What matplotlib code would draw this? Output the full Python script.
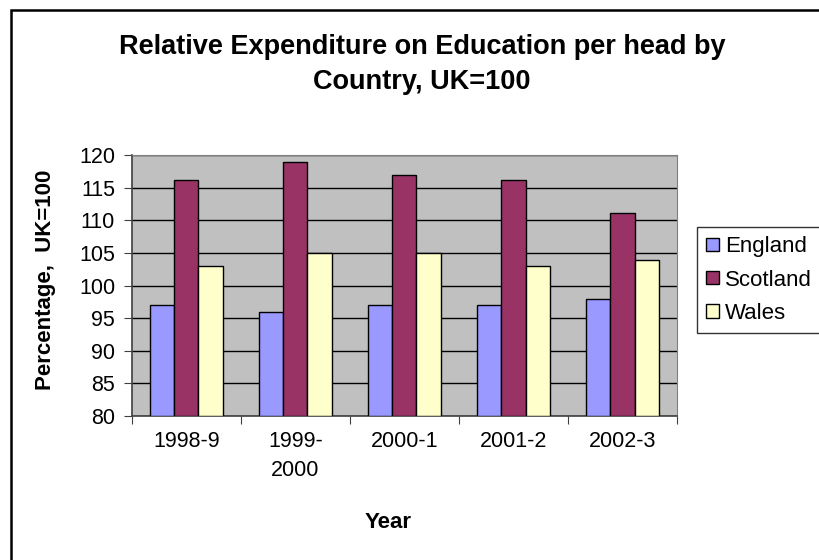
import matplotlib
matplotlib.use("Agg")
import matplotlib.pyplot as plt
import matplotlib.patches as mpatches
import numpy as np

plt.rcParams['font.family'] = ['Liberation Sans', 'DejaVu Sans']

years = ["1998-9", "1999-\n2000", "2000-1", "2001-2", "2002-3"]
england = [97, 96, 97, 97, 98]
scotland = [116.1, 118.9, 116.9, 116.1, 111.1]
wales = [103, 105, 105, 103, 103.9]
series_names = ["England", "Scotland", "Wales"]
colors = ["#9999FF", "#993366", "#FFFFCC"]

fig = plt.figure(figsize=(8.19, 5.6), dpi=100)
ax = fig.add_axes([131.7/819, 1-416/560, (677-131.7)/819, (416-155)/560])
ax.set_facecolor("#C0C0C0")

x = np.arange(len(years))
w = 0.222
for i, (vals, c, name) in enumerate(zip([england, scotland, wales], colors, series_names)):
    ax.bar(x + (i-1)*w, np.array(vals) - 80, width=w, bottom=80, color=c,
           edgecolor="black", linewidth=1, label=name, zorder=3)

ax.set_ylim(80, 120)
ax.set_xlim(-0.5, len(years)-0.5)
ax.set_yticks(range(80, 121, 5))
ax.yaxis.grid(True, color="black", linewidth=1, zorder=1)
ax.set_axisbelow(True)

ax.set_xticks(np.arange(-0.5, len(years)), minor=False)
ax.set_xticklabels([])
ax.set_xticks(x, minor=True)
ax.set_xticklabels(years, minor=True, fontsize=15.5, linespacing=1.5)
ax.tick_params(axis='x', which='minor', length=0, pad=11)
ax.tick_params(axis='x', which='major', length=6, direction='out', color='#404040')
ax.tick_params(axis='y', length=6, direction='out', labelsize=15.5, pad=6, color='#404040')
for lab in ax.get_xticklabels(minor=True):
    lab.set_verticalalignment('top')

for s in ['top', 'right']:
    ax.spines[s].set_color('#808080')
for s in ['left', 'bottom']:
    ax.spines[s].set_color('#404040')
    ax.spines[s].set_linewidth(1.2)

fig.text(422/819, 1-47/560, "Relative Expenditure on Education per head by",
         ha='center', va='center', fontsize=19.5, fontweight='bold')
fig.text(422/819, 1-82/560, "Country, UK=100",
         ha='center', va='center', fontsize=19.5, fontweight='bold')
fig.text(46/819, 1-280/560, "Percentage,  UK=100", rotation=90,
         ha='center', va='center', fontsize=16, fontweight='bold')
fig.text(388/819, 1-523/560, "Year", ha='center', va='center',
         fontsize=16, fontweight='bold')

handles = [mpatches.Patch(facecolor=c, edgecolor='black', linewidth=1) for c in colors]
leg = fig.legend(handles, series_names, loc='upper left',
                 bbox_to_anchor=(697/819, 1-227/560), fontsize=16,
                 frameon=True, fancybox=False, edgecolor='black',
                 handlelength=0.55, handleheight=0.55, handletextpad=0.3,
                 labelspacing=0.55, borderpad=0.42, borderaxespad=0)
leg.get_frame().set_linewidth(1)

border = mpatches.Rectangle((11/819, -0.1), 1.2, 1-10/560+0.1,
                            transform=fig.transFigure, fill=False,
                            edgecolor='black', linewidth=1.8)
fig.patches.append(border)

fig.savefig("out.png", dpi=100, facecolor='white')
